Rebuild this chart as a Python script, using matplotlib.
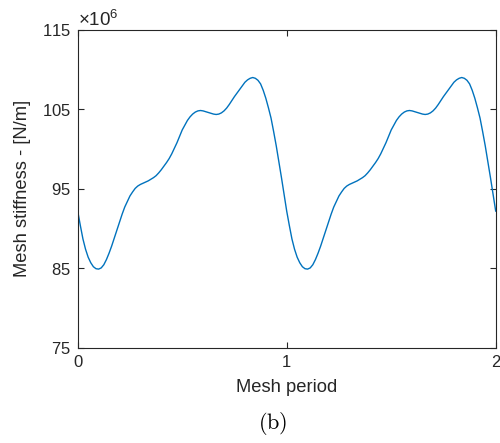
import numpy as np
import matplotlib
matplotlib.use('Agg')
import matplotlib.pyplot as plt
from matplotlib.ticker import ScalarFormatter

plt.rcParams['font.family'] = ['Liberation Sans', 'DejaVu Sans']
plt.rcParams['mathtext.fontset'] = 'custom'
plt.rcParams['mathtext.rm'] = 'Liberation Sans'
plt.rcParams['mathtext.it'] = 'Liberation Sans:italic'

# Mesh period (two periods)
mesh_period = [
    0.0000, 0.0125, 0.0250, 0.0375, 0.0500, 0.0625, 0.0750, 0.0875,
    0.1000, 0.1125, 0.1250, 0.1375, 0.1500, 0.1625, 0.1750, 0.1875,
    0.2000, 0.2125, 0.2250, 0.2375, 0.2500, 0.2625, 0.2750, 0.2875,
    0.3000, 0.3125, 0.3250, 0.3375, 0.3500, 0.3625, 0.3750, 0.3875,
    0.4000, 0.4125, 0.4250, 0.4375, 0.4500, 0.4625, 0.4750, 0.4875,
    0.5000, 0.5125, 0.5250, 0.5375, 0.5500, 0.5625, 0.5750, 0.5875,
    0.6000, 0.6125, 0.6250, 0.6375, 0.6500, 0.6625, 0.6750, 0.6875,
    0.7000, 0.7125, 0.7250, 0.7375, 0.7500, 0.7625, 0.7750, 0.7875,
    0.8000, 0.8125, 0.8250, 0.8375, 0.8500, 0.8625, 0.8750, 0.8875,
    0.9000, 0.9125, 0.9250, 0.9375, 0.9500, 0.9625, 0.9750, 0.9875,
    1.0000, 1.0125, 1.0250, 1.0375, 1.0500, 1.0625, 1.0750, 1.0875,
    1.1000, 1.1125, 1.1250, 1.1375, 1.1500, 1.1625, 1.1750, 1.1875,
    1.2000, 1.2125, 1.2250, 1.2375, 1.2500, 1.2625, 1.2750, 1.2875,
    1.3000, 1.3125, 1.3250, 1.3375, 1.3500, 1.3625, 1.3750, 1.3875,
    1.4000, 1.4125, 1.4250, 1.4375, 1.4500, 1.4625, 1.4750, 1.4875,
    1.5000, 1.5125, 1.5250, 1.5375, 1.5500, 1.5625, 1.5750, 1.5875,
    1.6000, 1.6125, 1.6250, 1.6375, 1.6500, 1.6625, 1.6750, 1.6875,
    1.7000, 1.7125, 1.7250, 1.7375, 1.7500, 1.7625, 1.7750, 1.7875,
    1.8000, 1.8125, 1.8250, 1.8375, 1.8500, 1.8625, 1.8750, 1.8875,
    1.9000, 1.9125, 1.9250, 1.9375, 1.9500, 1.9625, 1.9750, 1.9875,
    2.0000,
]

# Mesh stiffness in 1e6 N/m
stiffness_mn = [
    92.2, 90.4, 88.7, 87.4, 86.4, 85.7, 85.2, 84.95,
    84.9, 85.05, 85.45, 86.1, 86.9, 87.8, 88.8, 89.8,
    90.8, 91.8, 92.7, 93.4, 94.1, 94.6, 95.05, 95.35,
    95.55, 95.7, 95.85, 96.0, 96.2, 96.4, 96.65, 97.0,
    97.4, 97.85, 98.3, 98.8, 99.4, 100.1, 100.8, 101.6,
    102.4, 103.0, 103.6, 104.05, 104.4, 104.65, 104.8, 104.85,
    104.8, 104.7, 104.6, 104.5, 104.4, 104.35, 104.4, 104.55,
    104.8, 105.15, 105.6, 106.1, 106.6, 107.05, 107.5, 107.95,
    108.4, 108.7, 108.9, 109.0, 108.9, 108.65, 108.2, 107.4,
    106.4, 105.2, 103.9, 102.2, 100.4, 98.4, 96.4, 94.3,
    92.2, 90.4, 88.7, 87.4, 86.4, 85.7, 85.2, 84.95,
    84.9, 85.05, 85.45, 86.1, 86.9, 87.8, 88.8, 89.8,
    90.8, 91.8, 92.7, 93.4, 94.1, 94.6, 95.05, 95.35,
    95.55, 95.7, 95.85, 96.0, 96.2, 96.4, 96.65, 97.0,
    97.4, 97.85, 98.3, 98.8, 99.4, 100.1, 100.8, 101.6,
    102.4, 103.0, 103.6, 104.05, 104.4, 104.65, 104.8, 104.85,
    104.8, 104.7, 104.6, 104.5, 104.4, 104.35, 104.4, 104.55,
    104.8, 105.15, 105.6, 106.1, 106.6, 107.05, 107.5, 107.95,
    108.4, 108.7, 108.9, 109.0, 108.9, 108.65, 108.2, 107.4,
    106.4, 105.2, 103.9, 102.2, 100.4, 98.4, 96.4, 94.3,
    92.2,
]

x_ticks = [0, 1, 2]
y_ticks = [75e6, 85e6, 95e6, 105e6, 115e6]

stiffness = np.array(stiffness_mn) * 1e6

fig = plt.figure(figsize=(5.0, 4.43), dpi=100)
ax = fig.add_axes([0.1554, 0.2149, 0.836, 0.7178])

ax.plot(mesh_period, stiffness, color='#0072BD', lw=1.0,
        solid_joinstyle='round')

ax.set_xlim(0, 2)
ax.set_ylim(75e6, 115e6)
ax.set_xticks(x_ticks)
ax.set_yticks(y_ticks)

# MATLAB style exponent label at the top left
fmt = ScalarFormatter(useMathText=True)
fmt.set_powerlimits((6, 6))
ax.yaxis.set_major_formatter(fmt)
ax.yaxis.get_offset_text().set_fontsize(13.5)
ax.yaxis.get_offset_text().set_color('#262626')

dark = '#262626'
for s in ax.spines.values():
    s.set_color(dark)
    s.set_linewidth(0.8)
ax.tick_params(direction='in', length=4, width=0.8, colors=dark,
               labelsize=12, top=True, right=True, pad=5)

ax.set_xlabel('Mesh period', fontsize=13.2, color=dark, labelpad=7)
ax.set_ylabel('Mesh stiffness - [N/m]', fontsize=13.2, color=dark, labelpad=8)

fig.text(0.545, 0.045, r'$\mathrm{(b)}$', fontsize=16, math_fontfamily='cm',
         ha='center', va='center', color='black')

fig.savefig('out.png', dpi=100)
